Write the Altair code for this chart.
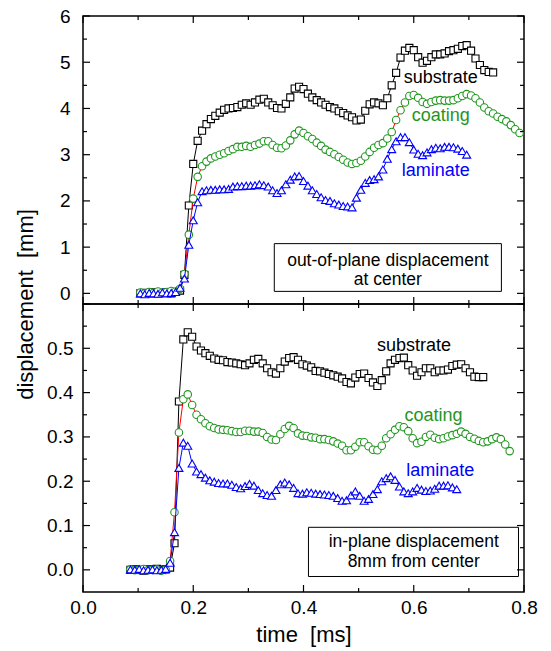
import altair as alt
import pandas as pd

# ---------------- data ----------------
T_TOP = [0.104, 0.112, 0.120, 0.128, 0.136, 0.144, 0.152, 0.160, 0.168, 0.176,
         0.184, 0.192, 0.200, 0.208, 0.216, 0.224, 0.232, 0.240, 0.248, 0.256,
         0.264, 0.272, 0.280, 0.288, 0.296, 0.304, 0.312, 0.320, 0.328, 0.336,
         0.344, 0.352, 0.360, 0.368, 0.376, 0.384, 0.392, 0.400, 0.408, 0.416,
         0.424, 0.432, 0.440, 0.448, 0.456, 0.464, 0.472, 0.480, 0.488, 0.496,
         0.504, 0.512, 0.520, 0.528, 0.536, 0.544, 0.552, 0.560, 0.568, 0.576,
         0.584, 0.592, 0.600, 0.608, 0.616, 0.624, 0.632, 0.640, 0.648, 0.656,
         0.664, 0.672, 0.680, 0.688, 0.696, 0.704, 0.712, 0.720, 0.728, 0.736,
         0.744, 0.752, 0.760, 0.768, 0.776, 0.784, 0.792]

SUB_TOP = [0.00, 0.01, 0.00, 0.02, 0.00, 0.01, 0.02, 0.00, 0.03, 0.06,
           0.40, 1.90, 2.80, 3.30, 3.52, 3.66, 3.77, 3.84, 3.91, 3.97,
           4.00, 4.01, 4.03, 4.08, 4.11, 4.08, 4.13, 4.19, 4.21, 4.13,
           4.07, 4.01, 4.00, 4.10, 4.24, 4.43, 4.47, 4.42, 4.32, 4.24,
           4.18, 4.13, 4.08, 4.03, 4.00, 3.94, 3.90, 3.85, 3.81, 3.74,
           3.76, 3.95, 4.09, 4.13, 4.11, 4.07, 4.22, 4.50, 4.77, 5.10,
           5.25, 5.31, 5.26, 5.11, 4.99, 5.03, 5.11, 5.17, 5.17, 5.19,
           5.24, 5.26, 5.29, 5.35, 5.37, 5.25, 5.08, 4.94, 4.83, 4.79,
           4.78]

COA_TOP = [0.02, 0.00, 0.03, 0.01, 0.04, 0.02, 0.03, 0.05, 0.04, 0.10,
           0.42, 1.27, 2.05, 2.52, 2.75, 2.85, 2.92, 2.96, 3.00, 3.03,
           3.08, 3.12, 3.17, 3.17, 3.19, 3.17, 3.21, 3.24, 3.29, 3.29,
           3.21, 3.15, 3.14, 3.20, 3.31, 3.44, 3.52, 3.47, 3.40, 3.34,
           3.26, 3.19, 3.11, 3.06, 3.01, 2.95, 2.89, 2.83, 2.80, 2.82,
           2.87, 2.96, 3.06, 3.15, 3.21, 3.25, 3.35, 3.49, 3.75, 3.96,
           4.13, 4.27, 4.29, 4.23, 4.14, 4.10, 4.14, 4.17, 4.18, 4.17,
           4.17, 4.18, 4.22, 4.27, 4.31, 4.28, 4.22, 4.13, 4.02, 3.94,
           3.89, 3.82, 3.77, 3.72, 3.64, 3.55, 3.47]

LAM_TOP = [0.00, -0.02, 0.01, 0.00, -0.01, 0.02, 0.00, 0.01, 0.03, 0.12,
           0.32, 1.05, 1.58, 1.97, 2.21, 2.23, 2.24, 2.24, 2.25, 2.25,
           2.26, 2.31, 2.32, 2.32, 2.33, 2.33, 2.34, 2.36, 2.34, 2.31,
           2.23, 2.17, 2.23, 2.36, 2.46, 2.53, 2.54, 2.43, 2.33, 2.23,
           2.15, 2.08, 2.02, 2.00, 1.95, 1.92, 1.89, 1.88, 1.86, 2.07,
           2.24, 2.39, 2.45, 2.47, 2.53, 2.68, 2.91, 3.12, 3.29, 3.38,
           3.38, 3.27, 3.11, 3.02, 2.99, 3.05, 3.12, 3.15, 3.14, 3.17,
           3.17, 3.16, 3.13, 3.08, 3.00]

T_BOT = [0.086, 0.094, 0.102, 0.110, 0.118, 0.126, 0.134, 0.142, 0.150, 0.158,
         0.166, 0.174, 0.182, 0.190, 0.198, 0.206, 0.214, 0.222, 0.230, 0.238,
         0.246, 0.254, 0.262, 0.270, 0.278, 0.286, 0.294, 0.302, 0.310, 0.318,
         0.326, 0.334, 0.342, 0.350, 0.358, 0.366, 0.374, 0.382, 0.390, 0.398,
         0.406, 0.414, 0.422, 0.430, 0.438, 0.446, 0.454, 0.462, 0.470, 0.478,
         0.486, 0.494, 0.502, 0.510, 0.518, 0.526, 0.534, 0.542, 0.550, 0.558,
         0.566, 0.574, 0.582, 0.590, 0.598, 0.606, 0.614, 0.622, 0.630, 0.638,
         0.646, 0.654, 0.662, 0.670, 0.678, 0.686, 0.694, 0.702, 0.710, 0.718,
         0.726, 0.734, 0.742, 0.750, 0.758, 0.766, 0.774]

SUB_BOT = [0.000, 0.001, 0.000, -0.002, 0.001, 0.000, 0.002, 0.000, 0.001, 0.005,
           0.060, 0.380, 0.520, 0.536, 0.526, 0.504, 0.495, 0.489, 0.483, 0.477,
           0.474, 0.473, 0.469, 0.468, 0.466, 0.464, 0.462, 0.466, 0.474, 0.476,
           0.466, 0.455, 0.446, 0.443, 0.455, 0.470, 0.478, 0.480, 0.474, 0.464,
           0.461, 0.457, 0.449, 0.448, 0.445, 0.442, 0.439, 0.436, 0.432, 0.424,
           0.421, 0.434, 0.442, 0.443, 0.433, 0.423, 0.415, 0.428, 0.448, 0.466,
           0.474, 0.478, 0.479, 0.462, 0.450, 0.438, 0.446, 0.455, 0.455, 0.446,
           0.450, 0.450, 0.452, 0.460, 0.463, 0.464, 0.455, 0.446, 0.436, 0.435,
           0.435]

COA_BOT = [0.001, -0.001, 0.000, 0.002, -0.001, 0.000, 0.001, -0.002, 0.000, 0.020,
           0.130, 0.310, 0.385, 0.396, 0.372, 0.350, 0.340, 0.331, 0.324, 0.320,
           0.317, 0.316, 0.315, 0.313, 0.311, 0.311, 0.314, 0.314, 0.312, 0.312,
           0.309, 0.300, 0.294, 0.293, 0.306, 0.318, 0.325, 0.320, 0.308, 0.303,
           0.302, 0.299, 0.298, 0.295, 0.295, 0.293, 0.290, 0.285, 0.280, 0.270,
           0.270, 0.278, 0.288, 0.288, 0.279, 0.271, 0.270, 0.280, 0.297, 0.306,
           0.316, 0.324, 0.322, 0.313, 0.297, 0.286, 0.289, 0.300, 0.305, 0.298,
           0.295, 0.297, 0.301, 0.304, 0.307, 0.312, 0.307, 0.300, 0.296, 0.291,
           0.288, 0.290, 0.295, 0.299, 0.295, 0.283, 0.268]

LAM_BOT = [0.001, 0.000, 0.002, -0.001, 0.000, 0.001, -0.001, 0.000, 0.002, 0.016,
           0.085, 0.230, 0.287, 0.280, 0.240, 0.222, 0.216, 0.208, 0.202, 0.199,
           0.196, 0.195, 0.195, 0.192, 0.187, 0.184, 0.189, 0.194, 0.190, 0.180,
           0.173, 0.169, 0.167, 0.180, 0.193, 0.197, 0.193, 0.185, 0.173, 0.172,
           0.175, 0.174, 0.172, 0.171, 0.170, 0.169, 0.167, 0.162, 0.156, 0.157,
           0.168, 0.177, 0.167, 0.156, 0.160, 0.171, 0.182, 0.200, 0.207, 0.211,
           0.203, 0.188, 0.177, 0.173, 0.177, 0.185, 0.181, 0.178, 0.179, 0.183,
           0.190, 0.190, 0.191, 0.186, 0.182]

SERIES = ["substrate", "coating", "laminate"]

# tick values
X_MAJOR = [0.0, 0.2, 0.4, 0.6, 0.8]
X_MINOR = [0.1, 0.3, 0.5, 0.7]
Y_TOP_MAJOR = [0, 1, 2, 3, 4, 5, 6]
Y_TOP_MINOR = [0.5, 1.5, 2.5, 3.5, 4.5, 5.5]
Y_BOT_MAJOR = [0.0, 0.1, 0.2, 0.3, 0.4, 0.5, 0.6]
Y_BOT_MINOR = [0.05, 0.15, 0.25, 0.35, 0.45, 0.55]
Y_BOT_LABELS = [0.0, 0.1, 0.2, 0.3, 0.4, 0.5]

# annotations
TOP_LABEL_T = [0.649, 0.649, 0.640]
TOP_LABEL_V = [4.55, 3.72, 2.53]
BOT_LABEL_T = [0.6005, 0.636, 0.648]
BOT_LABEL_V = [0.494, 0.336, 0.212]

TOP_BOX_TEXT = ["out-of-plane displacement", "at center"]
TOP_BOX_TEXT_V = [0.584, 0.173]
BOT_BOX_TEXT = ["in-plane displacement", "8mm from center"]
BOT_BOX_TEXT_V = [0.0525, 0.006]

# ---------------- styling ----------------
W, H = 441, 288
FONT = "Liberation Sans"
GREEN = "#1e961e"
BLUE = "#0000ff"
LINE_COL = {"substrate": "black", "coating": "red", "laminate": BLUE}
MARK_COL = {"substrate": "black", "coating": GREEN, "laminate": BLUE}
SHAPE = {"substrate": "square", "coating": "circle", "laminate": "triangle-up"}
SIZE = {"substrate": 50, "coating": 56, "laminate": 64}

xscale = alt.Scale(domain=[0, 0.8], nice=False, zero=False)


def panel(times, vals_list, ydomain, ymajor, yminor, ylabels, yfmt, ylabpad,
          ytitle, xaxis, lab_t, lab_v, box, box_text, box_text_v, box_t):
    yscale = alt.Scale(domain=ydomain, nice=False, zero=False)
    if ytitle:
        yaxis = alt.Axis(values=ylabels, format=yfmt, ticks=False, domain=False,
                         grid=False, labelPadding=ylabpad, labelOverlap=False,
                         labelFlush=False, title=ytitle, titleX=-58, titleY=H,
                         titleAngle=270, titleAlign="center",
                         titleBaseline="middle", titleFontWeight=400,
                         titleFontSize=22)
    else:
        yaxis = alt.Axis(values=ylabels, format=yfmt, ticks=False, domain=False,
                         grid=False, labelPadding=ylabpad, labelOverlap=False,
                         labelFlush=False, title="")
    X = lambda: alt.X("t:Q", scale=xscale, axis=xaxis)
    Y = lambda: alt.Y("v:Q", scale=yscale, axis=yaxis)

    layers = []
    # annotation box
    bdf = pd.DataFrame({"t": [box[0]], "t2": [box[1]], "v": [box[2]], "v2": [box[3]]})
    layers.append(alt.Chart(bdf).mark_rect(fill="white", stroke="black", strokeWidth=1)
                  .encode(x=X(), x2=alt.X2("t2"), y=Y(), y2=alt.Y2("v2")))
    tdf = pd.DataFrame({"t": [box_t] * len(box_text), "v": box_text_v, "txt": box_text})
    layers.append(alt.Chart(tdf).mark_text(font=FONT, fontSize=17.5, color="black",
                                           align="center", baseline="alphabetic")
                  .encode(x=X(), y=Y(), text="txt:N"))
    # series: line, then hollow (white-filled) markers
    for name, vals in zip(SERIES, vals_list):
        df = pd.DataFrame({"t": times[:len(vals)], "v": vals})
        base = alt.Chart(df).encode(x=X(), y=Y())
        layers.append(base.mark_line(color=LINE_COL[name], strokeWidth=1))
        layers.append(base.mark_point(shape=SHAPE[name], filled=False,
                                      fill="white", fillOpacity=1,
                                      stroke=MARK_COL[name], size=SIZE[name],
                                      strokeWidth=1.1, opacity=1))
    # series labels
    ldf = pd.DataFrame({"t": lab_t, "v": lab_v, "txt": SERIES,
                        "col": [MARK_COL[s] for s in SERIES]})
    layers.append(alt.Chart(ldf).mark_text(font=FONT, fontSize=18, align="center",
                                           baseline="alphabetic")
                  .encode(x=X(), y=Y(), text="txt:N",
                          color=alt.Color("col:N", scale=None)))
    # inward ticks on all four sides
    for vals, L in ((X_MAJOR, 7), (X_MINOR, 4)):
        base = alt.Chart(pd.DataFrame({"t": vals})).mark_rule(color="black", strokeWidth=1.2)
        layers.append(base.encode(x=X(), y=alt.value(H), y2=alt.value(H - L)))
        layers.append(base.encode(x=X(), y=alt.value(0), y2=alt.value(L)))
    for vals, L in ((ymajor, 7), (yminor, 4)):
        base = alt.Chart(pd.DataFrame({"v": vals})).mark_rule(color="black", strokeWidth=1.2)
        layers.append(base.encode(y=Y(), x=alt.value(0), x2=alt.value(L)))
        layers.append(base.encode(y=Y(), x=alt.value(W), x2=alt.value(W - L)))
    return alt.layer(*layers).properties(width=W, height=H)


xaxis_bottom = alt.Axis(values=X_MAJOR, format=".1f", ticks=False, domain=False,
                        grid=False, labelPadding=6, labelFlush=False,
                        labelOverlap=False, title="time\u00a0 [ms]", titlePadding=7,
                        titleFontWeight=400, titleFontSize=22)

top = panel(T_TOP, [SUB_TOP, COA_TOP, LAM_TOP], [-0.23, 6], Y_TOP_MAJOR, Y_TOP_MINOR,
            Y_TOP_MAJOR, "d", 13, "displacement\u00a0 [mm]", None,
            TOP_LABEL_T, TOP_LABEL_V, (0.347, 0.759, 0.043, 1.076),
            TOP_BOX_TEXT, TOP_BOX_TEXT_V, 0.553)
bottom = panel(T_BOT, [SUB_BOT, COA_BOT, LAM_BOT], [-0.05, 0.6], Y_BOT_MAJOR, Y_BOT_MINOR,
               Y_BOT_LABELS, ".1f", 10, None, xaxis_bottom,
               BOT_LABEL_T, BOT_LABEL_V, (0.409, 0.790, -0.015, 0.096),
               BOT_BOX_TEXT, BOT_BOX_TEXT_V, 0.600)

chart = (
    alt.vconcat(top, bottom, spacing=0, bounds="flush")
    .properties(padding={"left": 13, "top": 6, "right": 10, "bottom": 4})
    .configure_view(stroke="black", strokeWidth=1.5)
    .configure_axis(labelFont=FONT, titleFont=FONT, labelFontSize=19,
                    titleFontSize=22, labelColor="black", titleColor="black",
                    titleFontWeight=400)
    .configure_text(font=FONT)
)

chart.save("out.html", embed_options={"renderer": "svg", "actions": False})
